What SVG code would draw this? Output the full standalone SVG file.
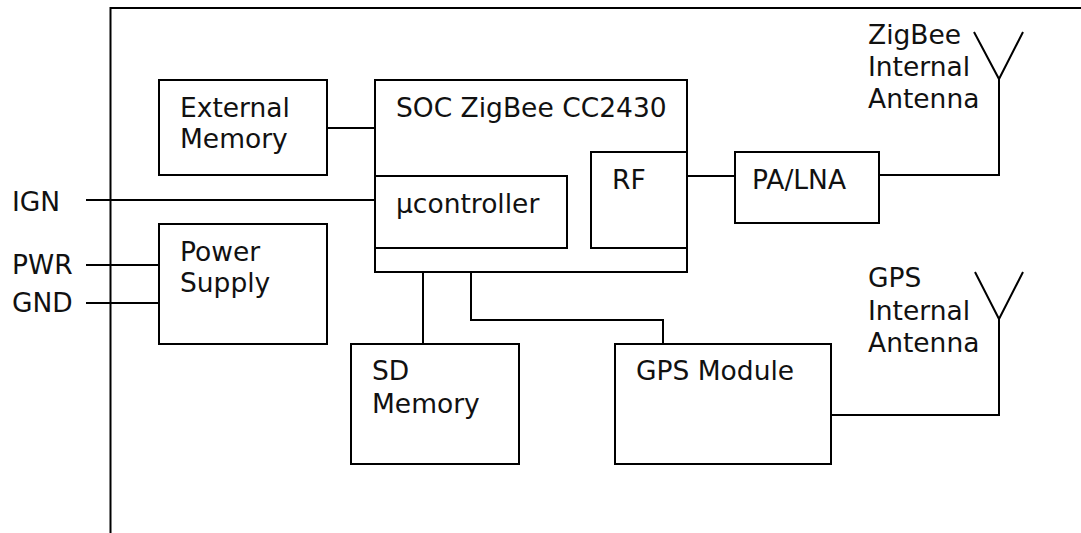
<svg xmlns="http://www.w3.org/2000/svg" width="1081" height="533" viewBox="0 0 1081 533">
<style>
.b{fill:#fff;stroke:#000;stroke-width:2}
.l{fill:none;stroke:#000;stroke-width:2}
text{font-family:"DejaVu Sans","Verdana",sans-serif;font-size:26.5px;fill:#111}
</style>
<rect width="1081" height="533" fill="#fff"/>
<g id="frame">
<path class="l" d="M110.5,533 V8 H1081"/>
</g>
<g id="connectors">
<path class="l" d="M327,128 H375"/>
<path class="l" d="M86,200 H375"/>
<path class="l" d="M86,265 H159"/>
<path class="l" d="M86,303 H159"/>
<path class="l" d="M687,176 H735"/>
<path class="l" d="M879,175 H999 V79"/>
<path class="l" d="M974,32 L999,79 L1023,32"/>
<path class="l" d="M423,248 V344"/>
<path class="l" d="M471,248 V320 H663 V344"/>
<path class="l" d="M831,415 H999 V319"/>
<path class="l" d="M975,272 L999,319 L1023,272"/>
</g>
<g id="ext-memory">
<rect class="b" x="159" y="80" width="168" height="95"/>
<text x="180" y="117">External</text>
<text x="180" y="148">Memory</text>
</g>
<g id="soc">
<rect class="b" x="375" y="80" width="312" height="192"/>
<text x="396" y="117">SOC ZigBee CC2430</text>
</g>
<g id="ucontroller">
<rect class="b" x="375" y="176" width="192" height="72"/>
<text x="396" y="213">µcontroller</text>
</g>
<g id="rf">
<rect class="b" x="591" y="152" width="96" height="96"/>
<text x="612" y="189">RF</text>
</g>
<g id="pa-lna">
<rect class="b" x="735" y="152" width="144" height="71"/>
<text x="752" y="189">PA/LNA</text>
</g>
<g id="power-supply">
<rect class="b" x="159" y="224" width="168" height="120"/>
<text x="180" y="261">Power</text>
<text x="180" y="292">Supply</text>
</g>
<g id="sd-memory">
<rect class="b" x="351" y="344" width="168" height="120"/>
<text x="372" y="380">SD</text>
<text x="372" y="413">Memory</text>
</g>
<g id="gps-module">
<rect class="b" x="615" y="344" width="216" height="120"/>
<text x="636" y="380">GPS Module</text>
</g>
<g id="labels">
<text x="12" y="211">IGN</text>
<text x="12" y="274">PWR</text>
<text x="12" y="312">GND</text>
<text x="868" y="44">ZigBee</text>
<text x="868" y="76">Internal</text>
<text x="868" y="108">Antenna</text>
<text x="868" y="287">GPS</text>
<text x="868" y="320">Internal</text>
<text x="868" y="352">Antenna</text>
</g>
</svg>
